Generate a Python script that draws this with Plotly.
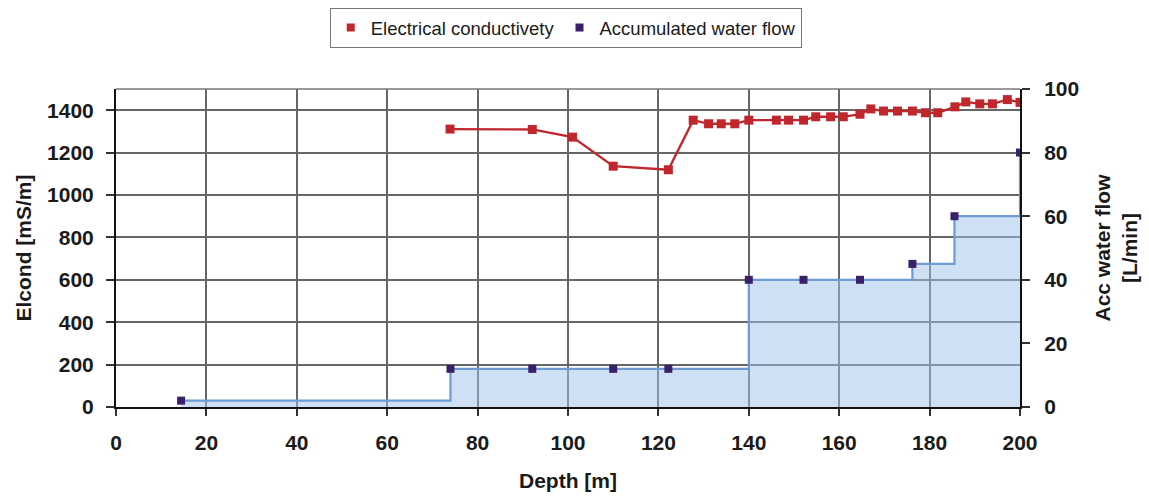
import plotly.graph_objects as go

# Electrical conductivity data (left axis)
ec_depth = [73.9, 92.1, 101.0, 110.0, 122.2, 127.7, 131.1, 133.9, 136.9, 140.0,
            146.1, 148.8, 152.1, 154.8, 158.1, 160.9, 164.6, 167.0, 169.8, 172.9,
            176.2, 179.1, 181.8, 185.6, 188.0, 191.1, 193.9, 197.2, 200.0]
ec_value = [1311, 1309, 1273, 1136, 1119, 1353, 1336, 1336, 1336, 1353,
            1353, 1353, 1353, 1369, 1369, 1369, 1381, 1406, 1396, 1396,
            1396, 1388, 1388, 1416, 1439, 1430, 1430, 1450, 1437]

# Accumulated water flow (right axis)
wf_depth = [14.4, 74.0, 92.1, 110.0, 122.2, 140.0, 152.1, 164.6, 176.2, 185.5, 200.0]
wf_value = [2, 12, 12, 12, 12, 40, 40, 40, 45, 60, 80]

x_ticks = list(range(0, 201, 20))
y_ticks = list(range(0, 1401, 200))
y2_ticks = list(range(0, 101, 20))

RED = "#c0272d"
PURPLE = "#3a1f6b"
BLUE_LINE = "#6f9bd4"
FONT = "Liberation Sans, Arial, sans-serif"
TXT = "#1a1a1a"

fig = go.Figure()

# water flow step area
fig.add_trace(go.Scatter(
    x=wf_depth, y=wf_value, yaxis="y2", mode="lines",
    line=dict(color=BLUE_LINE, width=2.2, shape="hv"),
    fill="tozeroy", fillcolor="rgba(159,193,233,0.5)",
    showlegend=False, hoverinfo="skip"))
fig.add_trace(go.Scatter(
    x=wf_depth, y=wf_value, yaxis="y2", mode="markers",
    marker=dict(symbol="square", size=8, color=PURPLE),
    showlegend=False))

# conductivity line
fig.add_trace(go.Scatter(
    x=ec_depth, y=ec_value, mode="lines+markers",
    line=dict(color=RED, width=2.3),
    marker=dict(symbol="square", size=9, color=RED),
    showlegend=False))

# legend entries
fig.add_trace(go.Scatter(x=[None], y=[None], mode="markers",
                         marker=dict(symbol="square", size=8, color=RED),
                         name="Electrical conductivety"))
fig.add_trace(go.Scatter(x=[None], y=[None], mode="markers", yaxis="y2",
                         marker=dict(symbol="square", size=8, color=PURPLE),
                         name="Accumulated water flow"))

axis_font = dict(family=FONT, size=21, color=TXT, weight="bold")

fig.update_layout(
    width=1149, height=497,
    margin=dict(l=116, r=129, t=89, b=90, autoexpand=False),
    paper_bgcolor="white", plot_bgcolor="white",
    font=dict(family=FONT, color=TXT),
    legend=dict(orientation="h", x=0.4975, xanchor="center", y=1.255, yanchor="top",
                bordercolor="#777", borderwidth=1,
                font=dict(family=FONT, size=18.5, color=TXT),
                itemwidth=30, tracegroupgap=0),
    xaxis=dict(range=[0, 200], tickvals=x_ticks, ticktext=[str(v) for v in x_ticks],
               showgrid=True, gridcolor="#666", gridwidth=1.5,
               showline=True, linecolor="#111", linewidth=2,
               ticks="outside", ticklen=7, tickcolor="#333", tickwidth=1.5,
               tickfont=axis_font, ticklabelstandoff=9, automargin=False,
               title=dict(text="Depth [m]", font=axis_font, standoff=20),
               zeroline=False),
    yaxis=dict(range=[0, 1500], tickvals=y_ticks,
               showgrid=True, gridcolor="#666", gridwidth=1.5,
               showline=True, linecolor="#111", linewidth=2,
               ticks="outside", ticklen=8, tickcolor="#333", tickwidth=1.5,
               tickfont=axis_font, ticklabelstandoff=8, automargin=False,
               title=dict(text="Elcond [mS/m]", font=axis_font, standoff=10),
               zeroline=False),
    yaxis2=dict(range=[0, 100], tickvals=y2_ticks, overlaying="y", side="right",
                showgrid=False,
                showline=True, linecolor="#111", linewidth=2,
                ticks="outside", ticklen=8, tickcolor="#333", tickwidth=1.5,
                tickfont=axis_font, ticklabelstandoff=10, automargin=False,
                title=dict(text="Acc water flow<br>[L/min]", font=axis_font, standoff=17),
                zeroline=False),
    shapes=[dict(type="line", xref="paper", yref="paper", x0=0, x1=1, y0=1, y1=1,
                 line=dict(color="#777", width=1.5))],
)

fig.write_html("out.html", config={"displayModeBar": False},
               post_script="document.body.style.margin='0';document.body.style.overflow='hidden';")
